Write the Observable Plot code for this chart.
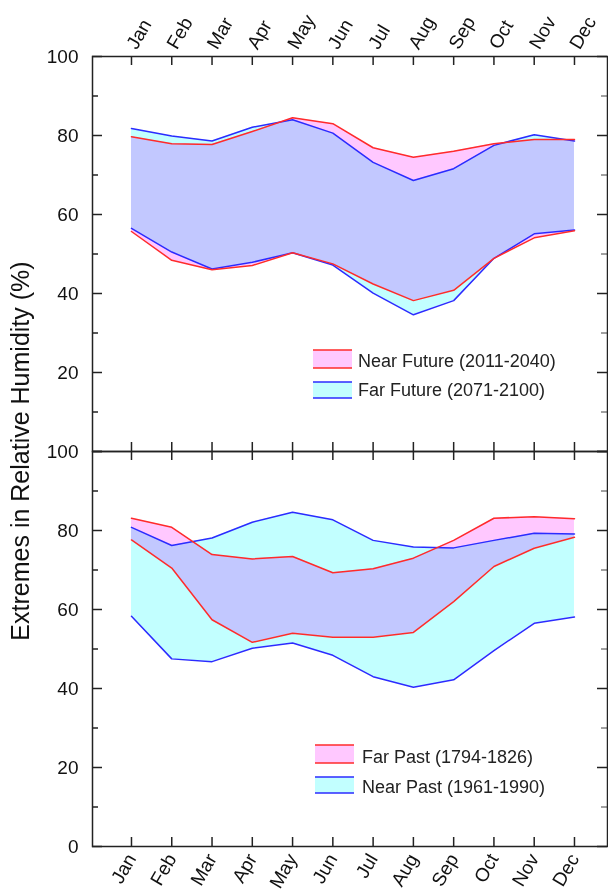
<!DOCTYPE html>
<html>
<head>
<meta charset="utf-8">
<script src="https://cdn.jsdelivr.net/npm/d3@7"></script>
<script src="https://cdn.jsdelivr.net/npm/@observablehq/plot@0.6"></script>
<style>
  html, body { margin: 0; padding: 0; background: #fff; }
  #wrap { position: relative; width: 608px; height: 896px; overflow: hidden; font-family: "Liberation Sans", Arial, sans-serif; }
  #top, #bottom { position: absolute; left: 0; }
  #top { top: 0; }
  #bottom { top: 450px; }
  #ylab { position: absolute; left: 20px; top: 451px; width: 0; height: 0; }
  #ylab span { position: absolute; white-space: nowrap; font-size: 25px; color: #111;
    transform: translate(-50%, -50%) rotate(-90deg); left: 0; top: 0; }
</style>
</head>
<body>
<div id="wrap">
  <div id="top"></div>
  <div id="bottom"></div>
  <div id="ylab"><span>Extremes in Relative Humidity (%)</span></div>
</div>
<script>
// ---- data ----
const months = ["Jan","Feb","Mar","Apr","May","Jun","Jul","Aug","Sep","Oct","Nov","Dec"];
const nearFutureHigh = [79.7, 77.9, 77.7, 81.0, 84.5, 83.0, 76.9, 74.5, 76.0, 77.9, 79.0, 79.0];
const nearFutureLow  = [55.7, 48.4, 46.0, 47.1, 50.3, 47.5, 42.4, 38.2, 40.8, 48.9, 54.1, 55.9];
const farFutureHigh  = [81.8, 79.9, 78.6, 82.1, 84.0, 80.6, 73.2, 68.6, 71.6, 77.5, 80.2, 78.6];
const farFutureLow   = [56.5, 50.5, 46.2, 47.9, 50.3, 47.2, 40.1, 34.6, 38.2, 48.9, 55.1, 56.1];
const farPastHigh    = [83.1, 80.8, 73.9, 72.8, 73.4, 69.3, 70.3, 73.0, 77.5, 83.1, 83.5, 83.0];
const farPastLow     = [77.6, 70.5, 57.4, 51.7, 54.0, 53.0, 53.0, 54.2, 62.0, 70.9, 75.5, 78.3];
const nearPastHigh   = [80.8, 76.2, 78.1, 82.1, 84.6, 82.7, 77.5, 75.8, 75.6, 77.5, 79.3, 79.1];
const nearPastLow    = [58.3, 47.5, 46.8, 50.2, 51.5, 48.4, 43.0, 40.3, 42.2, 49.6, 56.5, 58.1];
const yMajor = [0, 20, 40, 60, 80, 100];
const yMinor = [10, 30, 50, 70, 90];
const monthIdx = months.map((m, i) => i + 1);

const RED = "#ff2b2b", BLUE = "#2b2bff", PINK = "#ffc8ff", CYAN = "#c2ffff";
const FONT = "'Liberation Sans', Arial, sans-serif";

function rows(hiA, loA, hiB, loB) {
  return months.map((m, i) => ({ i: i + 1, m, hiA: hiA[i], loA: loA[i], hiB: hiB[i], loB: loB[i] }));
}

function panel({ data, top, height, marginTop, marginBottom, yLabels, legend }) {
  const W = 608, ml = 92, mr = 1;
  const fw = W - ml - mr;
  const fh = height - marginTop - marginBottom;
  const plot = Plot.plot({
    width: W, height, marginLeft: ml, marginRight: mr, marginTop, marginBottom,
    style: { fontFamily: FONT, fontSize: "19px", color: "#111", background: "transparent", overflow: "visible" },
    x: { type: "linear", domain: [0.032, 12.82], axis: null },
    y: { domain: [0, 100], axis: null },
    marks: [
      Plot.areaY(data, { x: "i", y1: "loA", y2: "hiA", fill: PINK }),
      Plot.areaY(data, { x: "i", y1: "loB", y2: "hiB", fill: CYAN, mixBlendMode: "multiply" }),
      Plot.line(data, { x: "i", y: "hiB", stroke: BLUE, strokeWidth: 1.5 }),
      Plot.line(data, { x: "i", y: "loB", stroke: BLUE, strokeWidth: 1.5 }),
      Plot.line(data, { x: "i", y: "hiA", stroke: RED, strokeWidth: 1.5 }),
      Plot.line(data, { x: "i", y: "loA", stroke: RED, strokeWidth: 1.5 }),
      // inward ticks
      Plot.tickX(monthIdx, { x: d => d, insetBottom: fh - 9, stroke: "#222", strokeWidth: 1.5 }),
      Plot.tickX(monthIdx, { x: d => d, insetTop: fh - 9, stroke: "#222", strokeWidth: 1.5 }),
      Plot.tickY(yMajor, { y: d => d, insetRight: fw - 10, stroke: "#222", strokeWidth: 1.5 }),
      Plot.tickY(yMinor, { y: d => d, insetRight: fw - 6, stroke: "#222", strokeWidth: 1.5 }),
      Plot.tickY(yMajor, { y: d => d, insetLeft: fw - 10, stroke: "#222", strokeWidth: 1.5 }),
      Plot.tickY(yMinor, { y: d => d, insetLeft: fw - 6, stroke: "#444", strokeWidth: 1 }),
      Plot.axisY(yLabels, { anchor: "left", tickSize: 0, tickPadding: 14, fontSize: 19, label: null }),
      Plot.axisX(monthIdx, {
        anchor: top ? "top" : "bottom", tickSize: 0, tickPadding: 9, tickRotate: -60,
        tickFormat: d => months[d - 1], fontSize: 19, label: null
      }),
      Plot.frame({ stroke: "#222", strokeWidth: 1.5 })
    ]
  });
  // legend
  const svg = d3.select(plot);
  const g = svg.append("g").attr("font-family", FONT).attr("font-size", 18).attr("fill", "#222").attr("text-anchor", "start");
  legend.forEach(it => {
    g.append("rect").attr("x", it.x).attr("y", it.y).attr("width", 39).attr("height", it.h).attr("fill", it.fill);
    g.append("line").attr("x1", it.x).attr("x2", it.x + 39).attr("y1", it.y).attr("y2", it.y).attr("stroke", it.stroke).attr("stroke-width", 1.5);
    g.append("line").attr("x1", it.x).attr("x2", it.x + 39).attr("y1", it.y + it.h).attr("y2", it.y + it.h).attr("stroke", it.stroke).attr("stroke-width", 1.5);
    g.append("text").attr("x", it.tx).attr("y", it.ty).attr("text-anchor", "start").text(it.label);
  });
  return plot;
}

document.getElementById("top").appendChild(panel({
  data: rows(nearFutureHigh, nearFutureLow, farFutureHigh, farFutureLow),
  top: true, height: 452, marginTop: 56, marginBottom: 1,
  yLabels: [20, 40, 60, 80, 100],
  legend: [
    { x: 313, y: 350, h: 18, fill: PINK, stroke: RED, tx: 358, ty: 366.5, label: "Near Future (2011-2040)" },
    { x: 313, y: 382, h: 16, fill: CYAN, stroke: BLUE, tx: 358, ty: 396, label: "Far Future (2071-2100)" }
  ]
}));

document.getElementById("bottom").appendChild(panel({
  data: rows(farPastHigh, farPastLow, nearPastHigh, nearPastLow),
  top: false, height: 446, marginTop: 1, marginBottom: 50,
  yLabels: [0, 20, 40, 60, 80, 100],
  legend: [
    { x: 315, y: 295, h: 18, fill: PINK, stroke: RED, tx: 362, ty: 312.5, label: "Far Past (1794-1826)" },
    { x: 315, y: 327, h: 16, fill: CYAN, stroke: BLUE, tx: 362, ty: 342.5, label: "Near Past (1961-1990)" }
  ]
}));
</script>
</body>
</html>
